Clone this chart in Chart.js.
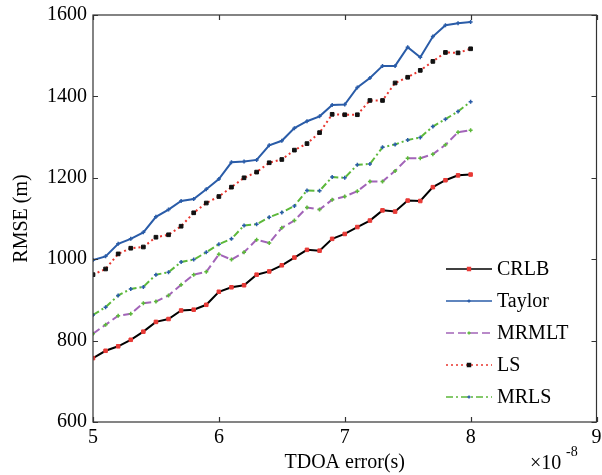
<!DOCTYPE html>
<html>
<head>
<meta charset="utf-8">
<script src="https://cdn.jsdelivr.net/npm/chart.js@4.4.1/dist/chart.umd.min.js"></script>
<style>
  html, body { margin: 0; padding: 0; background: #fff; }
  #wrap { width: 602px; height: 475px; }
</style>
</head>
<body>
<div id="wrap"><canvas id="rmseChart" width="602" height="475"></canvas></div>
<script>
// TDOA error (x 1e-8 s)
const tdoaErr = [5.0, 5.1, 5.2, 5.3, 5.4, 5.5, 5.6, 5.7, 5.8, 5.9, 6.0,
                 6.1, 6.2, 6.3, 6.4, 6.5, 6.6, 6.7, 6.8, 6.9, 7.0,
                 7.1, 7.2, 7.3, 7.4, 7.5, 7.6, 7.7, 7.8, 7.9, 8.0];

const crlb   = [757, 775, 786, 802, 822, 846, 853, 874, 876, 888, 920,
                931, 936, 962, 970, 985, 1004, 1023, 1021, 1050, 1062,
                1079, 1095, 1120, 1117, 1144, 1143, 1177, 1194, 1206, 1208];
const taylor = [998, 1007, 1038, 1050, 1066, 1104, 1122, 1143, 1148, 1172, 1197,
                1238, 1240, 1244, 1280, 1291, 1322, 1339, 1351, 1379, 1380,
                1422, 1445, 1475, 1475, 1521, 1496, 1547, 1575, 1580, 1583];
const mrmlt  = [817, 839, 861, 866, 892, 896, 911, 937, 962, 969, 1012,
                999, 1017, 1048, 1040, 1077, 1095, 1127, 1122, 1146, 1154,
                1167, 1191, 1191, 1217, 1248, 1248, 1258, 1281, 1312, 1317];
const ls     = [962, 976, 1013, 1027, 1030, 1054, 1060, 1081, 1114, 1138, 1154,
                1177, 1200, 1214, 1237, 1245, 1268, 1284, 1311, 1356, 1355,
                1355, 1390, 1390, 1433, 1447, 1464, 1486, 1508, 1507, 1517];
const mrls   = [863, 882, 911, 927, 932, 962, 968, 993, 999, 1017, 1037,
                1050, 1083, 1086, 1103, 1115, 1131, 1169, 1168, 1202, 1200,
                1232, 1234, 1275, 1282, 1293, 1299, 1326, 1344, 1363, 1387];

const xTicks = [5, 6, 7, 8, 9];
const yTicks = [600, 800, 1000, 1200, 1400, 1600];

const serif = 'Liberation Serif, Times New Roman, serif';
const toPoints = arr => arr.map((v, i) => ({ x: tdoaErr[i], y: v }));

// frame with inward ticks, plus the x10^-8 note
const framePlugin = {
    id: 'frame',
    afterDraw(chart) {
        const ctx = chart.ctx;
        const a = chart.chartArea;
        const sx = chart.scales.x, sy = chart.scales.y;
        ctx.save();
        ctx.strokeStyle = '#333';
        ctx.lineWidth = 1.2;
        ctx.strokeRect(a.left, a.top, a.right - a.left, a.bottom - a.top);
        ctx.beginPath();
        xTicks.forEach(t => {
            const px = Math.round(sx.getPixelForValue(t)) + 0.5;
            ctx.moveTo(px, a.bottom); ctx.lineTo(px, a.bottom - 5);
            ctx.moveTo(px, a.top); ctx.lineTo(px, a.top + 5);
        });
        yTicks.forEach(t => {
            const py = Math.round(sy.getPixelForValue(t)) + 0.5;
            ctx.moveTo(a.left, py); ctx.lineTo(a.left + 5, py);
            ctx.moveTo(a.right, py); ctx.lineTo(a.right - 5, py);
        });
        ctx.stroke();

        ctx.fillStyle = '#000';
        ctx.textBaseline = 'alphabetic';
        ctx.textAlign = 'left';
        ctx.font = '20px ' + serif;
        ctx.fillText('\u00d710', 530, 469);
        ctx.font = '14px ' + serif;
        ctx.fillText('-8', 566, 456);
        ctx.restore();
    }
};

// legend drawn inside the plot, lower right
const legendPlugin = {
    id: 'innerLegend',
    afterDraw(chart) {
        const ctx = chart.ctx;
        ctx.save();
        chart.data.datasets.forEach((ds, i) => {
            const y = 269 + i * 32;
            ctx.strokeStyle = ds.borderColor;
            ctx.lineWidth = 1.5;
            ctx.setLineDash(ds.borderDash || []);
            ctx.beginPath();
            ctx.moveTo(446, y);
            ctx.lineTo(492, y);
            ctx.stroke();
            ctx.setLineDash([]);
            ctx.fillStyle = ds.pointBackgroundColor;
            ctx.strokeStyle = ds.pointBorderColor;
            Chart.helpers.drawPoint(ctx, {
                pointStyle: ds.pointStyle,
                radius: ds.pointRadius * 0.8,
                borderWidth: ds.pointBorderWidth,
                rotation: 0
            }, 469, y);
            ctx.fillStyle = '#000';
            ctx.font = '20px ' + serif;
            ctx.textAlign = 'left';
            ctx.textBaseline = 'middle';
            ctx.fillText(ds.label, 497, y + 1);
        });
        ctx.restore();
    }
};

const ctx = document.getElementById('rmseChart').getContext('2d');
const rmseChart = new Chart(ctx, {
    type: 'line',
    data: {
        datasets: [
            {
                label: 'CRLB', data: toPoints(crlb),
                borderColor: '#000000', borderWidth: 2,
                pointStyle: 'rect', pointRadius: 2.5,
                pointBackgroundColor: '#e83a36', pointBorderColor: '#e83a36', pointBorderWidth: 1
            },
            {
                label: 'Taylor', data: toPoints(taylor),
                borderColor: '#2a5ca8', borderWidth: 2,
                pointStyle: 'cross', pointRadius: 2,
                pointBackgroundColor: '#2a5ca8', pointBorderColor: '#2a5ca8', pointBorderWidth: 1.5
            },
            {
                label: 'MRMLT', data: toPoints(mrmlt),
                borderColor: '#a264b8', borderWidth: 2, borderDash: [8, 4],
                pointStyle: 'cross', pointRadius: 2,
                pointBackgroundColor: '#5cb83a', pointBorderColor: '#5cb83a', pointBorderWidth: 1.5
            },
            {
                label: 'LS', data: toPoints(ls),
                borderColor: '#e8362f', borderWidth: 2, borderDash: [2, 3],
                pointStyle: 'rect', pointRadius: 2.6,
                pointBackgroundColor: '#111111', pointBorderColor: '#111111', pointBorderWidth: 1
            },
            {
                label: 'MRLS', data: toPoints(mrls),
                borderColor: '#5cb83a', borderWidth: 2, borderDash: [7, 3, 2, 3],
                pointStyle: 'cross', pointRadius: 2,
                pointBackgroundColor: '#2a5ca8', pointBorderColor: '#2a5ca8', pointBorderWidth: 1.5
            }
        ]
    },
    options: {
        responsive: false,
        animation: false,
        layout: { padding: { left: 0, right: 5, top: 15, bottom: 0 } },
        plugins: {
            legend: { display: false },
            tooltip: { enabled: false }
        },
        scales: {
            x: {
                type: 'linear', min: 5, max: 9,
                afterBuildTicks: s => { s.ticks = xTicks.map(v => ({ value: v })); },
                ticks: { font: { family: serif, size: 20, lineHeight: 1 }, color: '#000', padding: 6, maxRotation: 0,
                         callback: v => String(v) },
                grid: { display: false, drawTicks: false },
                border: { display: false },
                title: { display: true, text: 'TDOA error(s)', color: '#000',
                         font: { family: serif, size: 20 }, padding: 0 },
                afterFit: s => { s.height = 53; s.paddingLeft = 0; s.paddingRight = 0; }
            },
            y: {
                type: 'linear', min: 600, max: 1600,
                afterBuildTicks: s => { s.ticks = yTicks.map(v => ({ value: v })); },
                ticks: { font: { family: serif, size: 20, lineHeight: 1 }, color: '#000', padding: 6,
                         callback: v => String(v) },
                grid: { display: false, drawTicks: false },
                border: { display: false },
                title: { display: true, text: 'RMSE (m)', color: '#000',
                         font: { family: serif, size: 20 }, padding: { top: 10, bottom: 0 } },
                afterFit: s => { s.width = 93; s.paddingTop = 0; s.paddingBottom = 0; }
            }
        }
    },
    plugins: [framePlugin, legendPlugin]
});
</script>
</body>
</html>
